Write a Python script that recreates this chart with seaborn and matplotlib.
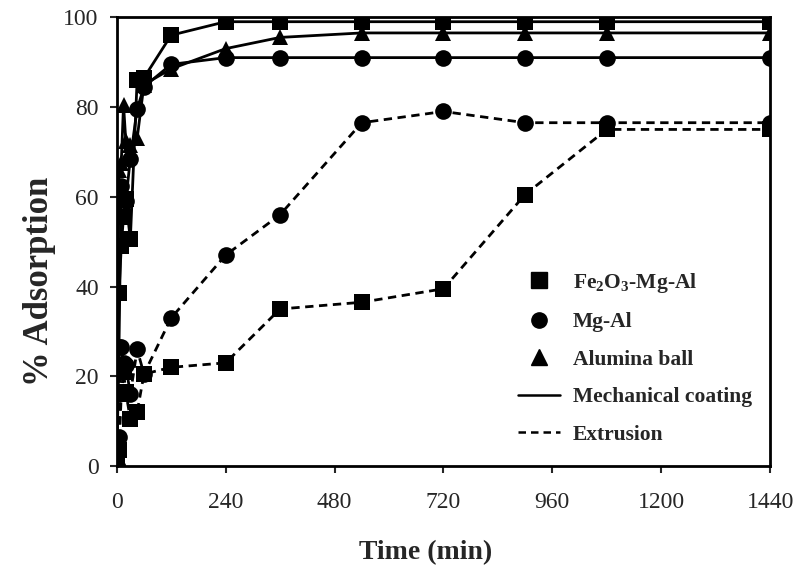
import pandas as pd
import seaborn as sns
import matplotlib.pyplot as plt
from matplotlib.lines import Line2D

# Time points (min)
time = [0, 5, 10, 15, 20, 30, 45, 60, 120, 240, 360, 540, 720, 900, 1080, 1440]

# Mechanical coating (solid lines)
fe_mech = [0, 38.5, 49, 55.5, 59.5, 50.5, 86, 86.5, 96, 99, 99, 99, 99, 99, 99, 99]
mg_mech = [0, 26.5, 62.5, 59.5, 59, 68.5, 79.5, 84.5, 89.5, 91, 91, 91, 91, 91, 91, 91]
al_mech = [0, 66, 67.5, 80.5, 72.5, 71.5, 73, 85, 88.5, 93, 95.5, 96.5, 96.5, 96.5, 96.5, 96.5]

# Extrusion (dashed lines)
fe_extr = [0, 3.5, 16, 21, 16.5, 10.5, 12, 20.5, 22, 23, 35, 36.5, 39.5, 60.5, 75, 75]
mg_extr = [0, 6.5, 26.5, 23, 22.5, 16, 26, 20.5, 33, 47, 56, 76.5, 79, 76.5, 76.5, 76.5]

series = [
    ('Fe2O3-Mg-Al', 'Mechanical coating', fe_mech),
    ('Mg-Al', 'Mechanical coating', mg_mech),
    ('Alumina ball', 'Mechanical coating', al_mech),
    ('Fe2O3-Mg-Al', 'Extrusion', fe_extr),
    ('Mg-Al', 'Extrusion', mg_extr),
]
rows = []
for mat, method, vals in series:
    for t, v in zip(time, vals):
        rows.append({'Material': mat, 'Method': method, 'Time': t, 'Adsorption': v})
data = pd.DataFrame(rows)

sns.set_style("ticks")
plt.rcParams['font.family'] = ['Liberation Serif', 'DejaVu Serif']
plt.rcParams['mathtext.fontset'] = 'custom'
plt.rcParams['mathtext.rm'] = 'Liberation Serif:bold'
plt.rcParams['mathtext.it'] = 'Liberation Serif:bold'
plt.rcParams['mathtext.bf'] = 'Liberation Serif:bold'

fig = plt.figure(figsize=(7.94, 5.74), dpi=100)
ax = fig.add_axes([0.147, 0.188, 0.823, 0.782])

markers = {'Fe2O3-Mg-Al': 's', 'Mg-Al': 'o', 'Alumina ball': '^'}

sns.lineplot(
    data=data, x='Time', y='Adsorption',
    style='Material', markers=markers,
    hue='Method', palette={'Mechanical coating': 'black', 'Extrusion': 'black'},
    units='Method', estimator=None, dashes=False,
    markersize=12, markeredgewidth=0, linewidth=2, legend=False, ax=ax,
    sort=False,
)
# dashed style for the extrusion lines
for line, (mat, method, vals) in zip(ax.get_lines(), series):
    if method == 'Extrusion':
        line.set_linestyle((0, (3, 2)))

ax.set_xlim(0, 1440)
ax.set_ylim(0, 100)
ax.set_xticks(range(0, 1441, 240))
ax.set_yticks(range(0, 101, 20))
ax.tick_params(axis='both', labelsize=17, width=1.5, length=5, direction='out')
ax.tick_params(axis='x', pad=14)
ax.tick_params(axis='y', pad=8)
ax.set_xlabel('Time (min)', fontsize=20, fontweight='bold')
ax.set_ylabel('% Adsorption', fontsize=25, fontweight='bold')
ax.xaxis.set_label_coords(0.473, -0.165)
ax.yaxis.set_label_coords(-0.093, 0.412)
for spine in ax.spines.values():
    spine.set_linewidth(2)
    spine.set_visible(True)
    spine.set_color('black')

handles = [
    Line2D([], [], color='black', marker='s', linestyle='none', markersize=11),
    Line2D([], [], color='black', marker='o', linestyle='none', markersize=11),
    Line2D([], [], color='black', marker='^', linestyle='none', markersize=11),
    Line2D([], [], color='black', linestyle='-', linewidth=1.8),
    Line2D([], [], color='black', linestyle=(0, (3, 2)), linewidth=1.8),
]
labels = [r'Fe$_\mathregular{2}$O$_\mathregular{3}$-Mg-Al', 'Mg-Al', 'Alumina ball',
          'Mechanical coating', 'Extrusion']
leg = fig.legend(handles, labels, loc='center left', bbox_to_anchor=(0.652, 0.377),
                 frameon=False, prop={'size': 15.5, 'weight': 'bold'},
                 labelspacing=0.81, handlelength=1.95, handletextpad=0.6,
                 borderpad=0, borderaxespad=0)

plt.savefig('out.png', dpi=100)
